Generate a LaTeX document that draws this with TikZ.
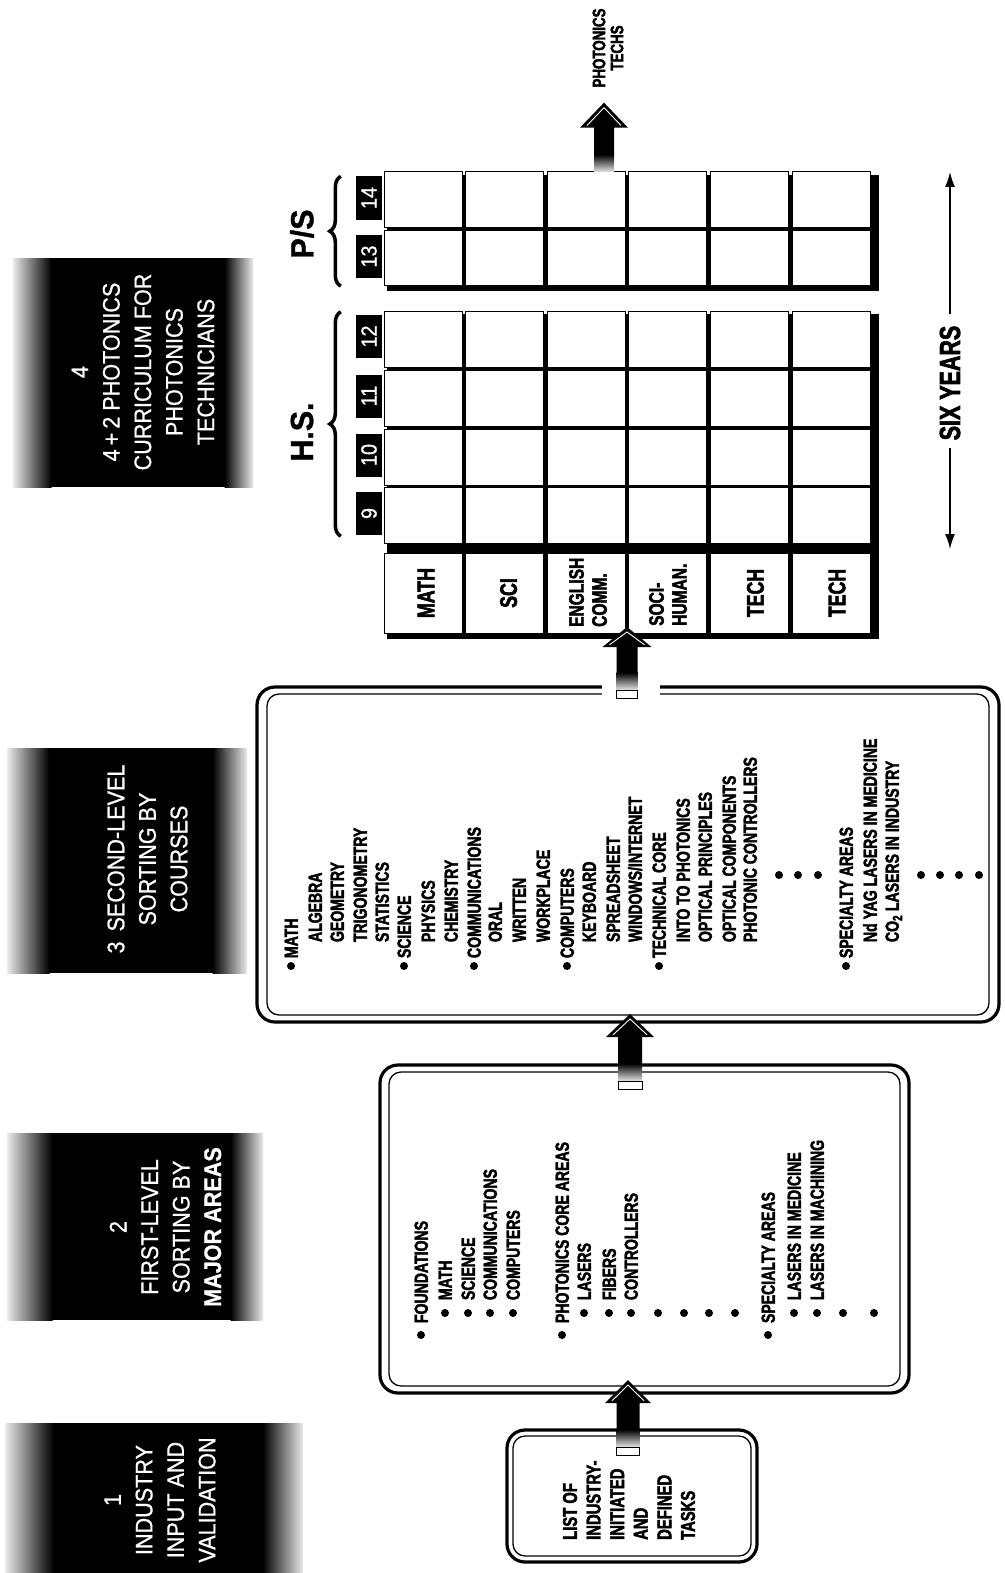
\documentclass[tikz,border=0pt]{standalone}
\usepackage{fontspec}
\usepackage{graphicx}
\setmainfont{Liberation Sans}
\newfontfamily\cb[FakeStretch=0.74,BoldFeatures={FakeBold=2.2}]{Liberation Sans}
\newfontfamily\cn[FakeStretch=0.9,FakeBold=0.8]{Liberation Sans}
\newfontfamily\cw[FakeStretch=0.95,BoldFeatures={FakeBold=1.2}]{Liberation Sans}
\usetikzlibrary{calc,arrows.meta,decorations.pathreplacing}

\newcommand\stepbg[6]{%
  \shade[left color=black!8, middle color=black!60, right color=black] (#1,#3) rectangle ({#1+#5+0.5},#4);
  \fill[black] ({#1+#5},#3) rectangle ({#2-#6},#4);
  \shade[left color=black, middle color=black!60, right color=black!8] ({#2-#6-0.5},#3) rectangle (#2,#4);
}
\newcommand\blockarrow[6]{%
  \fill[black] let \p1=(#1), \p2=(#2) in (\x1,\y1) -- (\x1+#3pt,\y1-#5pt) -- (\x1+#4pt,\y1-#5pt) -- (\x1+#4pt,\y2+#6pt+17pt) -- (\x1-#4pt,\y2+#6pt+17pt) -- (\x1-#4pt,\y1-#5pt) -- (\x1-#3pt,\y1-#5pt) -- cycle;
  \shade[top color=black, bottom color=black!10] let \p1=(#1), \p2=(#2) in (\x1-#4pt,\y2+#6pt+17.5pt) rectangle (\x1+#4pt,\y2+#6pt);
  \ifnum#6>0 \draw[fill=white, line width=0.6pt] let \p1=(#1), \p2=(#2) in (\x1-#4pt,\y2+#6pt) rectangle (\x1+#4pt,\y2);\fi
  \draw[white, line width=0.9pt] let \p1=(#1) in (\x1-#3pt+7pt,\y1-#5pt+2.2pt) -- (\x1,\y1-5pt) -- (\x1+#3pt-7pt,\y1-#5pt+2.2pt);
}
\newcommand\itm[4]{\node[item] (#1) at (#2,#3) {#4};}
\newcommand\blt[2]{\fill ([yshift=-#2pt]#1.west) circle[radius=4pt];}
\newcommand\dotp[2]{\fill (#1,#2) circle[radius=4pt];}

\begin{document}
\begin{tikzpicture}[x=1pt,y=-1pt,
  stxt/.style={rotate=90, align=center, text=white, inner sep=0pt, font=\cn\fontsize{24}{31.5}\selectfont},
  obox/.style={draw, line width=3.2pt, rounded corners=18pt, inner sep=0pt, outer sep=0pt},
  ibox/.style={line width=1.3pt, rounded corners=12pt},
  item/.style={rotate=90, anchor=west, inner sep=0pt, outer sep=0pt, text height=13.6pt, text depth=0pt, font=\cb\bfseries\fontsize{19}{19}\selectfont},
  cell/.style={draw, fill=white, line width=1pt, minimum width=78pt, inner sep=0pt, outer sep=0pt},
  ylab/.style={fill=black, text=white, minimum width=26pt, minimum height=43pt, inner sep=0pt, font=\cn\fontsize{22}{22}\selectfont},
  htxt/.style={rotate=90, inner sep=0pt, font=\cb\bfseries\fontsize{24}{24}\selectfont},
  htxt2/.style={rotate=90, anchor=west, align=left, inner sep=0pt, font=\cb\bfseries\fontsize{21}{23}\selectfont},
  bigl/.style={rotate=90, inner sep=0pt, font=\cw\bfseries\fontsize{32}{32}\selectfont},
  brc/.style={decorate, decoration={brace, amplitude=11pt}, line width=3.5pt},
]
\useasboundingbox (0,0) rectangle (1004,1573);

% ---------- step boxes ----------
\stepbg{5}{303}{1423}{1575}{48}{40}
\stepbg{7}{263}{1133}{1320}{45}{32}
\stepbg{7}{247}{748}{973}{42}{34}
\stepbg{13}{253}{258}{487}{38}{28}
\node[stxt] (s1) at (160,1500) {1\\INDUSTRY\\INPUT AND\\VALIDATION};
\node[stxt] (s2) at (165.5,1227) {2\\FIRST-LEVEL\\SORTING BY\\{\bfseries MAJOR AREAS}};
\node[stxt] (s3) at (147.5,859) {3\hspace{10pt}SECOND-LEVEL\\SORTING BY\\COURSES};
\node[stxt] (s4) at (143,372) {4\\4\,+\,2 PHOTONICS\\CURRICULUM FOR\\PHOTONICS\\TECHNICIANS};

% ---------- boxes ----------
\node[obox, minimum width=250pt, minimum height=132pt] (b1) at (632,1496) {};
\node[obox, minimum width=529pt, minimum height=328pt] (b2) at (644.5,1229) {};
\node[obox, minimum width=742pt, minimum height=335pt] (b3) at (628,854.5) {};
\draw[ibox] ([shift={(6,6)}]b1.north west) rectangle ([shift={(-6,-6)}]b1.south east);
\draw[ibox] ([shift={(9,7)}]b2.north west) rectangle ([shift={(-9,-7)}]b2.south east);
\draw[ibox] ([shift={(10,7)}]b3.north west) rectangle ([shift={(-10,-7)}]b3.south east);
\fill[white] (602,683) rectangle (660,698);

\node[rotate=90, anchor=west, align=left, inner sep=0pt, font=\cb\bfseries\fontsize{20}{23.6}\selectfont] (t1) at (629,1540) {LIST OF\\INDUSTRY-\\INITIATED\\AND\\DEFINED\\TASKS};

% box 2 items
\itm{f1}{421}{1323}{FOUNDATIONS}\blt{f1}{12}
\itm{f2}{445}{1300}{MATH}\blt{f2}{13}
\itm{f3}{468}{1300}{SCIENCE}\blt{f3}{13}
\itm{f4}{490}{1300}{COMMUNICATIONS}\blt{f4}{13}
\itm{f5}{513}{1300}{COMPUTERS}\blt{f5}{13}
\itm{f6}{562}{1323}{PHOTONICS CORE AREAS}\blt{f6}{12}
\itm{f7}{584}{1300}{LASERS}\blt{f7}{13}
\itm{f8}{609}{1300}{FIBERS}\blt{f8}{13}
\itm{f9}{631}{1300}{CONTROLLERS}\blt{f9}{13}
\dotp{658}{1313}\dotp{684}{1313}\dotp{709}{1313}\dotp{735}{1313}
\itm{f10}{768}{1323}{SPECIALTY AREAS}\blt{f10}{12}
\itm{f11}{794}{1300}{LASERS IN MEDICINE}\blt{f11}{13}
\itm{f12}{817}{1300}{LASERS IN MACHINING}\blt{f12}{13}
\dotp{843}{1313}\dotp{874}{1313}

% box 3 items
\itm{g1}{291}{958}{MATH}\blt{g1}{8}
\itm{g2}{315}{942}{ALGEBRA}
\itm{g3}{337}{942}{GEOMETRY}
\itm{g4}{360}{942}{TRIGONOMETRY}
\itm{g5}{382}{942}{STATISTICS}
\itm{g6}{404}{958}{SCIENCE}\blt{g6}{8}
\itm{g7}{428}{942}{PHYSICS}
\itm{g8}{451}{942}{CHEMISTRY}
\itm{g9}{474}{958}{COMMUNICATIONS}\blt{g9}{8}
\itm{g10}{495}{942}{ORAL}
\itm{g11}{519}{942}{WRITTEN}
\itm{g12}{543}{942}{WORKPLACE}
\itm{g13}{567}{958}{COMPUTERS}\blt{g13}{8}
\itm{g14}{589}{942}{KEYBOARD}
\itm{g15}{613}{942}{SPREADSHEET}
\itm{g16}{635}{942}{WINDOWS/INTERNET}
\itm{g17}{659}{958}{TECHNICAL CORE}\blt{g17}{8}
\itm{g18}{683}{942}{INTO TO PHOTONICS}
\itm{g19}{705}{942}{OPTICAL PRINCIPLES}
\itm{g20}{729}{942}{OPTICAL COMPONENTS}
\itm{g21}{750}{942}{PHOTONIC CONTROLLERS}
\dotp{779}{875}\dotp{798}{875}\dotp{818}{875}
\itm{g22}{846}{958}{SPECIALTY AREAS}\blt{g22}{8}
\itm{g23}{870}{942}{Nd YAG LASERS IN MEDICINE}
\itm{g24}{892}{942}{CO\textsubscript{2} LASERS IN INDUSTRY}
\dotp{921}{875}\dotp{940}{875}\dotp{959}{875}\dotp{979}{875}

% ---------- grid ----------
\fill (387,314) rectangle (879,639);
\fill (387,175) rectangle (879,291);
\foreach \i in {1,...,6}{
  \pgfmathsetmacro\cx{423+81.6*(\i-1)}
  \node[cell, minimum height=80pt] (hd\i) at (\cx,593) {};
  \foreach \r/\cy in {9/515.5,10/457,11/398,12/339}
    \node[cell, minimum height=56pt] (c\r-\i) at (\cx,\cy) {};
  \foreach \r/\cy in {13/258,14/199.5}
    \node[cell, minimum height=55pt] (c\r-\i) at (\cx,\cy) {};
}
\node[ylab] (y9) at (369,513.5) {\rotatebox{90}{9}};
\node[ylab] (y10) at (369,455) {\rotatebox{90}{10}};
\node[ylab] (y11) at (369,396) {\rotatebox{90}{11}};
\node[ylab] (y12) at (369,336.5) {\rotatebox{90}{12}};
\node[ylab] (y13) at (369,256.5) {\rotatebox{90}{13}};
\node[ylab] (y14) at (369,198) {\rotatebox{90}{14}};

\node[htxt] (tmath) at ([xshift=3pt]hd1.center) {MATH};
\node[htxt] (tsci) at ([xshift=4pt]hd2.center) {SCI};
\node[htxt2] (teng) at (588,627) {ENGLISH\\COMM.};
\node[htxt2] (tsoc) at (668,626) {SOCI-\\HUMAN.};
\node[htxt] (tt1) at ([xshift=6pt]hd5.center) {TECH};
\node[htxt] (tt2) at ([xshift=6pt]hd6.center) {TECH};

\node[bigl] (hs) at (302,432) {H.S.};
\node[bigl] (ps) at (302,234) {P/S};
\draw[brc] ([xshift=-15pt,yshift=-1pt]y9.south west) -- ([xshift=-15pt,yshift=3pt]y12.north west);
\draw[brc] ([xshift=-15pt,yshift=-8pt]y13.south west) -- ([xshift=-15pt]y14.north west);

\node[rotate=90, inner sep=0pt, font=\cb\bfseries\fontsize{29}{29}\selectfont] (sy) at (950,383) {SIX YEARS};
\coordinate (syt) at (950,172);
\coordinate (syb) at (950,549);
\draw[line width=1.4pt, -{Latex[length=15pt,width=10pt]}] ([yshift=12pt]sy.east) -- (syt);
\draw[line width=1.4pt, -{Latex[length=15pt,width=10pt]}] ([yshift=-8pt]sy.west) -- (syb);

\node[rotate=90, align=center, inner sep=0pt, font=\cb\bfseries\fontsize{18}{18}\selectfont] (pt) at (608,48) {PHOTONICS\\TECHS};

% ---------- block arrows ----------
\coordinate (a1t) at ([xshift=-16.5pt,yshift=13pt]b2.south);
\path ([yshift=-25pt]b1.north) coordinate (a1y);
\coordinate (a1b) at (a1t |- a1y);
\blockarrow{a1t}{a1b}{23}{11.5}{23}{8}

\coordinate (a2t) at ([xshift=2pt,yshift=8pt]b3.south);
\path ([yshift=-24pt]b2.north) coordinate (a2y);
\coordinate (a2b) at (a2t |- a2y);
\blockarrow{a2t}{a2b}{24}{12}{23}{8}

\coordinate (a3t) at ([yshift=6pt]$(hd3.south east)!0.5!(hd4.south west)$);
\path ([yshift=-11pt]b3.north) coordinate (a3y);
\coordinate (a3b) at (a3t |- a3y);
\blockarrow{a3t}{a3b}{24.5}{10.5}{20}{8}

\coordinate (a4t) at ([xshift=-4pt,yshift=-15pt]pt.west);
\coordinate (a4b) at (a4t |- c14-3.north);
\blockarrow{a4t}{a4b}{24}{10}{25}{0}
\end{tikzpicture}
\end{document}
